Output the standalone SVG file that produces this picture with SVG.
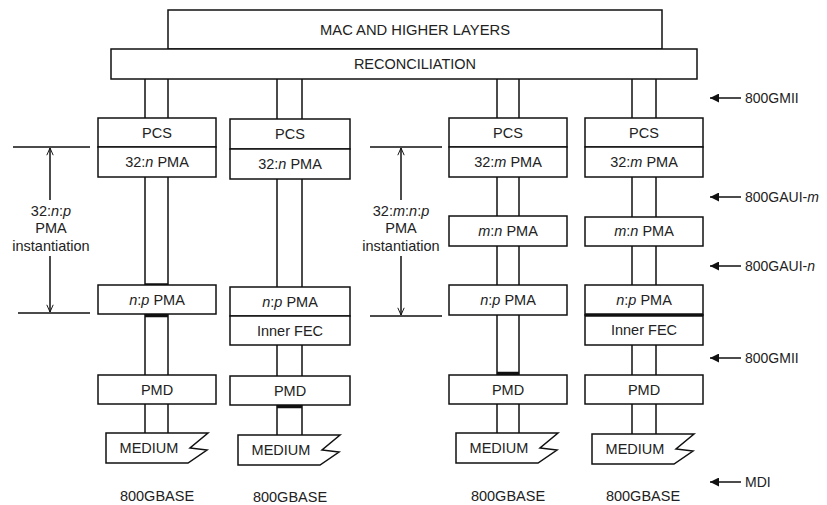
<svg xmlns="http://www.w3.org/2000/svg" width="827" height="505" viewBox="0 0 827 505">
<defs>
<style>
.box{fill:#fff;stroke:#111;stroke-width:1.5}
.med{fill:#fff;stroke:#111;stroke-width:1.5;stroke-linejoin:miter}
.t{font-family:"Liberation Sans",Arial,sans-serif;font-size:14.5px;fill:#222;text-anchor:middle}
.lb{font-family:"Liberation Sans",Arial,sans-serif;font-size:14px;fill:#222}
.i{font-style:italic}
.ln{stroke:#111;stroke-width:1.5;fill:none}
.th{stroke:#111;stroke-width:3.5;fill:none}
</style>
<marker id="open" viewBox="0 0 10 10" refX="10" refY="5" markerUnits="userSpaceOnUse" markerWidth="8" markerHeight="8" orient="auto">
<path d="M1,1 L10,5 L1,9" fill="none" stroke="#111" stroke-width="1.2"/>
</marker>
<marker id="solid" viewBox="0 0 10 10" refX="10" refY="5" markerUnits="userSpaceOnUse" markerWidth="11" markerHeight="9" orient="auto">
<path d="M0,0 L10,5 L0,10 z" fill="#111"/>
</marker>
<path id="medium" d="M0,0 L102,0 L84,15 L101,17 L82,30 L0,30 Z"/>
</defs>
<rect width="827" height="505" fill="#fff"/>

<g id="connectors">
<!-- column 1 -->
<path class="ln" d="M145,79V118M168,79V118M145,177V285M168,177V285M145,314V375M168,314V375M145,404V433M168,404V433"/>
<path class="th" d="M145,285H168M145,315.5H168"/>
<!-- column 2 -->
<path class="ln" d="M277,79V119M302,79V119M277,179V287M302,179V287M277,345V377H302V345M277,405V435M302,405V435"/>
<path class="th" d="M277,406.5H302"/>
<!-- column 3 -->
<path class="ln" d="M497,79V118M519,79V118M497,177V216M519,177V216M497,246V285M519,246V285M497,315V375M519,315V375M497,404V433M519,404V433"/>
<path class="th" d="M497,373.5H519"/>
<!-- column 4 -->
<path class="ln" d="M632,79V118M656,79V118M632,177V217M656,177V217M632,246V285M656,246V285M632,345V375M656,345V375M632,404V434M656,404V434"/>
<!-- interface arrows -->
<line class="ln" x1="741" y1="98" x2="710" y2="98" marker-end="url(#solid)"/>
<line class="ln" x1="741" y1="197" x2="710" y2="197" marker-end="url(#solid)"/>
<line class="ln" x1="741" y1="266" x2="710" y2="266" marker-end="url(#solid)"/>
<line class="ln" x1="741" y1="358" x2="710" y2="358" marker-end="url(#solid)"/>
<line class="ln" x1="741" y1="482" x2="710" y2="482" marker-end="url(#solid)"/>
<!-- instantiation dimension lines -->
<path class="ln" d="M13,147H90M18,313H90"/>
<line class="ln" x1="50" y1="200" x2="50" y2="148" marker-end="url(#open)"/>
<line class="ln" x1="50" y1="256" x2="50" y2="312" marker-end="url(#open)"/>
<path class="ln" d="M370,147H442M370,316H442"/>
<line class="ln" x1="401" y1="200" x2="401" y2="148" marker-end="url(#open)"/>
<line class="ln" x1="401" y1="256" x2="401" y2="315" marker-end="url(#open)"/>
</g>

<g id="mac"><rect class="box" x="168" y="10" width="494" height="39"/><text class="t" x="415" y="35" textLength="190" lengthAdjust="spacingAndGlyphs">MAC AND HIGHER LAYERS</text></g>
<g id="reconciliation"><rect class="box" x="111" y="49" width="586" height="30"/><text class="t" x="415" y="69">RECONCILIATION</text></g>

<g id="c1-pcs"><rect class="box" x="98" y="118" width="118" height="29"/><text class="t" x="157" y="138">PCS</text></g>
<g id="c1-pma32"><rect class="box" x="98" y="147" width="118" height="30"/><text class="t" x="157" y="167">32:<tspan class="i">n</tspan> PMA</text></g>
<g id="c1-pmanp"><rect class="box" x="98" y="285" width="118" height="29"/><text class="t" x="157" y="305"><tspan class="i">n</tspan>:<tspan class="i">p</tspan> PMA</text></g>
<g id="c1-pmd"><rect class="box" x="98" y="375" width="118" height="29"/><text class="t" x="157" y="395">PMD</text></g>
<g id="c1-medium"><use href="#medium" class="med" x="106" y="433"/><text class="t" x="149" y="453">MEDIUM</text></g>
<g id="c1-label"><text class="t" x="157" y="501">800GBASE</text></g>

<g id="c2-pcs"><rect class="box" x="230" y="119" width="120" height="30"/><text class="t" x="290" y="139">PCS</text></g>
<g id="c2-pma32"><rect class="box" x="230" y="149" width="120" height="30"/><text class="t" x="290" y="169">32:<tspan class="i">n</tspan> PMA</text></g>
<g id="c2-pmanp"><rect class="box" x="230" y="287" width="120" height="29"/><text class="t" x="290" y="307"><tspan class="i">n</tspan>:<tspan class="i">p</tspan> PMA</text></g>
<g id="c2-fec"><rect class="box" x="230" y="316" width="120" height="29"/><text class="t" x="290" y="336">Inner FEC</text></g>
<g id="c2-pmd"><rect class="box" x="230" y="376" width="120" height="29"/><text class="t" x="290" y="396">PMD</text></g>
<g id="c2-medium"><use href="#medium" class="med" x="238" y="435"/><text class="t" x="281" y="455">MEDIUM</text></g>
<g id="c2-label"><text class="t" x="290" y="502">800GBASE</text></g>

<g id="c3-pcs"><rect class="box" x="449" y="118" width="118" height="29"/><text class="t" x="508" y="138">PCS</text></g>
<g id="c3-pma32"><rect class="box" x="449" y="147" width="118" height="30"/><text class="t" x="508" y="167">32:<tspan class="i">m</tspan> PMA</text></g>
<g id="c3-pmamn"><rect class="box" x="449" y="216" width="118" height="30"/><text class="t" x="508" y="236"><tspan class="i">m</tspan>:<tspan class="i">n</tspan> PMA</text></g>
<g id="c3-pmanp"><rect class="box" x="449" y="285" width="118" height="30"/><text class="t" x="508" y="305"><tspan class="i">n</tspan>:<tspan class="i">p</tspan> PMA</text></g>
<g id="c3-pmd"><rect class="box" x="449" y="375" width="118" height="29"/><text class="t" x="508" y="395">PMD</text></g>
<g id="c3-medium"><use href="#medium" class="med" x="456" y="433"/><text class="t" x="499" y="453">MEDIUM</text></g>
<g id="c3-label"><text class="t" x="508" y="501">800GBASE</text></g>

<g id="c4-pcs"><rect class="box" x="585" y="118" width="118" height="29"/><text class="t" x="644" y="138">PCS</text></g>
<g id="c4-pma32"><rect class="box" x="585" y="147" width="118" height="30"/><text class="t" x="644" y="167">32:<tspan class="i">m</tspan> PMA</text></g>
<g id="c4-pmamn"><rect class="box" x="585" y="217" width="118" height="29"/><text class="t" x="644" y="236"><tspan class="i">m</tspan>:<tspan class="i">n</tspan> PMA</text></g>
<g id="c4-pmanp"><rect class="box" x="585" y="285" width="118" height="30"/><text class="t" x="644" y="305"><tspan class="i">n</tspan>:<tspan class="i">p</tspan> PMA</text></g>
<g id="c4-fec"><rect class="box" x="585" y="315" width="118" height="30"/><line class="th" x1="585" y1="315" x2="703" y2="315" stroke-width="2.5"/><text class="t" x="644" y="335">Inner FEC</text></g>
<g id="c4-pmd"><rect class="box" x="585" y="375" width="118" height="29"/><text class="t" x="644" y="395">PMD</text></g>
<g id="c4-medium"><use href="#medium" class="med" x="592" y="434"/><text class="t" x="635" y="454">MEDIUM</text></g>
<g id="c4-label"><text class="t" x="643" y="501">800GBASE</text></g>

<g id="inst-left">
<text class="t" x="51" y="216">32:<tspan class="i">n</tspan>:<tspan class="i">p</tspan></text>
<text class="t" x="51" y="233">PMA</text>
<text class="t" x="51" y="251">instantiation</text>
</g>
<g id="inst-mid">
<text class="t" x="401" y="216">32:<tspan class="i">m</tspan>:<tspan class="i">n</tspan>:<tspan class="i">p</tspan></text>
<text class="t" x="401" y="233">PMA</text>
<text class="t" x="401" y="251">instantiation</text>
</g>

<g id="if-800gmii-top"><text class="lb" x="745" y="103">800GMII</text></g>
<g id="if-800gaui-m"><text class="lb" x="745" y="202">800GAUI-<tspan class="i">m</tspan></text></g>
<g id="if-800gaui-n"><text class="lb" x="745" y="271">800GAUI-<tspan class="i">n</tspan></text></g>
<g id="if-800gmii-low"><text class="lb" x="745" y="363">800GMII</text></g>
<g id="if-mdi"><text class="lb" x="745" y="487">MDI</text></g>
</svg>
